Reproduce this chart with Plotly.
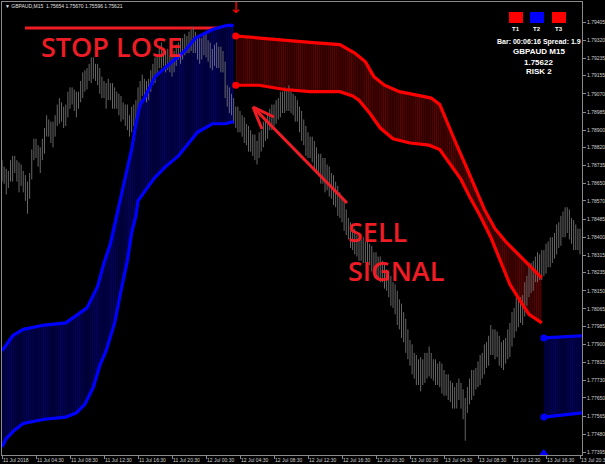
import plotly.graph_objects as go

# ---------------- data ----------------
time_labels = ["11 Jul 2018", "11 Jul 04:30", "11 Jul 08:30", "11 Jul 12:30", "11 Jul 16:30",
               "11 Jul 20:30", "12 Jul 00:30", "12 Jul 04:30", "12 Jul 08:30", "12 Jul 12:30",
               "12 Jul 16:30", "12 Jul 20:30", "13 Jul 00:30", "13 Jul 04:30", "13 Jul 08:30",
               "13 Jul 12:30", "13 Jul 16:30", "13 Jul 20:30"]
label_step = 16  # M15 bars between time labels

price_ticks = [1.79405, 1.79320, 1.79235, 1.79155, 1.79070, 1.78985, 1.78900, 1.78820, 1.78735,
               1.78650, 1.78570, 1.78485, 1.78400, 1.78315, 1.78235, 1.78150, 1.78065, 1.77985,
               1.77900, 1.77815, 1.77730, 1.77650, 1.77565, 1.77480, 1.77395]

high = [1.7876, 1.7873, 1.7872, 1.7871, 1.7876, 1.7878, 1.7878, 1.7876, 1.7875, 1.7874,
        1.7871, 1.7869, 1.7866, 1.7870, 1.7881, 1.7886, 1.7886, 1.7883, 1.7882, 1.7886,
        1.7891, 1.7897, 1.7895, 1.7894, 1.7894, 1.7897, 1.7902, 1.7905, 1.7903, 1.7901,
        1.7902, 1.7908, 1.7910, 1.7910, 1.7909, 1.7908, 1.7908, 1.7913, 1.7917, 1.7918,
        1.7919, 1.7921, 1.7924, 1.7924, 1.7921, 1.7921, 1.7919, 1.7915, 1.7913, 1.7912,
        1.7914, 1.7912, 1.7912, 1.7910, 1.7908, 1.7907, 1.7906, 1.7903, 1.7902, 1.7902,
        1.7897, 1.7901, 1.7902, 1.7904, 1.7910, 1.7913, 1.7916, 1.7914, 1.7913, 1.7914,
        1.7918, 1.7921, 1.7924, 1.7925, 1.7929, 1.7931, 1.7928, 1.7927, 1.7928, 1.7925,
        1.7925, 1.7927, 1.7930, 1.7931, 1.7933, 1.7933, 1.7935, 1.7934, 1.7936, 1.7937,
        1.7938, 1.7936, 1.7933, 1.7933, 1.7933, 1.7935, 1.7936, 1.7932, 1.7931, 1.7928,
        1.7930, 1.7931, 1.7929, 1.7929, 1.7927, 1.7922, 1.7911, 1.7910, 1.7907, 1.7905,
        1.7901, 1.7901, 1.7899, 1.7897, 1.7896, 1.7893, 1.7892, 1.7890, 1.7888, 1.7888,
        1.7885, 1.7889, 1.7890, 1.7894, 1.7895, 1.7898, 1.7900, 1.7902, 1.7902, 1.7904,
        1.7905, 1.7908, 1.7908, 1.7910, 1.7909, 1.7911, 1.7908, 1.7907, 1.7906, 1.7904,
        1.7901, 1.7899, 1.7895, 1.7892, 1.7889, 1.7887, 1.7887, 1.7885, 1.7882, 1.7879,
        1.7879, 1.7877, 1.7877, 1.7874, 1.7873, 1.7870, 1.7869, 1.7866, 1.7864, 1.7861,
        1.7859, 1.7857, 1.7853, 1.7849, 1.7847, 1.7844, 1.7844, 1.7841, 1.7841, 1.7839,
        1.7840, 1.7838, 1.7838, 1.7837, 1.7836, 1.7833, 1.7833, 1.7831, 1.7831, 1.7829,
        1.7828, 1.7825, 1.7824, 1.7822, 1.7819, 1.7818, 1.7815, 1.7811, 1.7809, 1.7805,
        1.7802, 1.7797, 1.7792, 1.7790, 1.7786, 1.7785, 1.7783, 1.7784, 1.7783, 1.7786,
        1.7786, 1.7789, 1.7786, 1.7783, 1.7783, 1.7781, 1.7782, 1.7781, 1.7778, 1.7776,
        1.7776, 1.7773, 1.7772, 1.7770, 1.7772, 1.7774, 1.7772, 1.7769, 1.7765, 1.7770,
        1.7774, 1.7778, 1.7778, 1.7779, 1.7782, 1.7785, 1.7786, 1.7790, 1.7791, 1.7794,
        1.7799, 1.7797, 1.7797, 1.7796, 1.7794, 1.7791, 1.7792, 1.7793, 1.7797, 1.7800,
        1.7805, 1.7807, 1.7812, 1.7812, 1.7812, 1.7813, 1.7819, 1.7822, 1.7828, 1.7828,
        1.7829, 1.7831, 1.7833, 1.7832, 1.7834, 1.7834, 1.7837, 1.7838, 1.7840, 1.7840,
        1.7842, 1.7846, 1.7847, 1.7850, 1.7852, 1.7854, 1.7854, 1.7853, 1.7849, 1.7848,
        1.7846, 1.7844, 1.7844]

low = [1.7866, 1.7865, 1.7860, 1.7863, 1.7866, 1.7866, 1.7870, 1.7866, 1.7861, 1.7864,
       1.7861, 1.7857, 1.7851, 1.7858, 1.7867, 1.7876, 1.7877, 1.7873, 1.7870, 1.7876,
       1.7879, 1.7887, 1.7887, 1.7884, 1.7882, 1.7887, 1.7892, 1.7893, 1.7894, 1.7891,
       1.7892, 1.7896, 1.7900, 1.7902, 1.7899, 1.7896, 1.7900, 1.7903, 1.7905, 1.7908,
       1.7909, 1.7913, 1.7912, 1.7914, 1.7913, 1.7911, 1.7907, 1.7905, 1.7905, 1.7900,
       1.7904, 1.7904, 1.7900, 1.7900, 1.7900, 1.7897, 1.7894, 1.7895, 1.7892, 1.7890,
       1.7887, 1.7889, 1.7892, 1.7894, 1.7898, 1.7903, 1.7906, 1.7906, 1.7903, 1.7904,
       1.7908, 1.7911, 1.7912, 1.7915, 1.7919, 1.7919, 1.7920, 1.7917, 1.7918, 1.7917,
       1.7915, 1.7917, 1.7920, 1.7923, 1.7921, 1.7923, 1.7925, 1.7926, 1.7926, 1.7927,
       1.7926, 1.7926, 1.7923, 1.7921, 1.7923, 1.7925, 1.7924, 1.7922, 1.7919, 1.7918,
       1.7920, 1.7919, 1.7919, 1.7917, 1.7917, 1.7905, 1.7901, 1.7898, 1.7897, 1.7893,
       1.7891, 1.7889, 1.7889, 1.7887, 1.7884, 1.7883, 1.7880, 1.7880, 1.7878, 1.7876,
       1.7874, 1.7877, 1.7880, 1.7882, 1.7885, 1.7886, 1.7890, 1.7890, 1.7892, 1.7893,
       1.7895, 1.7896, 1.7898, 1.7898, 1.7899, 1.7899, 1.7898, 1.7897, 1.7894, 1.7894,
       1.7889, 1.7885, 1.7883, 1.7878, 1.7877, 1.7877, 1.7875, 1.7871, 1.7870, 1.7869,
       1.7865, 1.7865, 1.7861, 1.7862, 1.7859, 1.7858, 1.7855, 1.7854, 1.7850, 1.7849,
       1.7847, 1.7843, 1.7841, 1.7839, 1.7835, 1.7834, 1.7832, 1.7831, 1.7829, 1.7829,
       1.7828, 1.7828, 1.7826, 1.7827, 1.7824, 1.7823, 1.7821, 1.7821, 1.7819, 1.7819,
       1.7816, 1.7815, 1.7812, 1.7808, 1.7807, 1.7804, 1.7799, 1.7797, 1.7793, 1.7791,
       1.7786, 1.7783, 1.7780, 1.7776, 1.7774, 1.7771, 1.7771, 1.7768, 1.7771, 1.7772,
       1.7774, 1.7775, 1.7774, 1.7773, 1.7771, 1.7771, 1.7770, 1.7767, 1.7766, 1.7766,
       1.7764, 1.7763, 1.7760, 1.7760, 1.7760, 1.7764, 1.7760, 1.7755, 1.7745, 1.7758,
       1.7762, 1.7764, 1.7766, 1.7769, 1.7770, 1.7771, 1.7774, 1.7776, 1.7779, 1.7780,
       1.7785, 1.7785, 1.7783, 1.7784, 1.7780, 1.7779, 1.7778, 1.7781, 1.7783, 1.7784,
       1.7789, 1.7793, 1.7796, 1.7798, 1.7800, 1.7799, 1.7803, 1.7808, 1.7812, 1.7814,
       1.7815, 1.7819, 1.7819, 1.7820, 1.7820, 1.7822, 1.7823, 1.7826, 1.7826, 1.7828,
       1.7830, 1.7832, 1.7835, 1.7836, 1.7840, 1.7840, 1.7842, 1.7839, 1.7837, 1.7834,
       1.7834, 1.7834, 1.7832]

# indicator bands (bar index, price)
blue1_up_x = [0, 5, 10, 20, 30, 37, 40, 45, 48, 51, 54, 57, 59, 61, 63, 65, 67, 72, 80, 86, 91, 99, 106, 109]
blue1_up = [1.7787, 1.7794, 1.7797, 1.7799, 1.7800, 1.7805, 1.7807, 1.7817, 1.7828, 1.7837, 1.7850, 1.7862,
            1.7871, 1.7881, 1.7893, 1.7902, 1.7905, 1.7915, 1.7922, 1.7927, 1.7933, 1.7937, 1.7939, 1.7939]
blue1_lo_x = [0, 2, 6, 10, 20, 30, 35, 39, 43, 46, 49, 53, 56, 59, 61, 63, 64, 66, 69, 72, 77, 83, 88, 92, 99, 105, 109]
blue1_lo = [1.7742, 1.7746, 1.7750, 1.7753, 1.7755, 1.7756, 1.7758, 1.7762, 1.7770, 1.7780, 1.7787, 1.7800,
            1.7815, 1.7829, 1.7842, 1.7850, 1.7857, 1.7860, 1.7864, 1.7868, 1.7873, 1.7878, 1.7884, 1.7889,
            1.7893, 1.7893, 1.7894]

red_up_x = [110, 121, 133, 145, 159, 166, 171, 175, 180, 187, 197, 202, 206, 210, 214, 218, 223, 227, 232,
            237, 241, 246, 251, 254]
red_up = [1.7934, 1.7933, 1.7932, 1.7931, 1.7930, 1.7926, 1.7922, 1.7915, 1.7911, 1.7908, 1.7906, 1.7905,
          1.7902, 1.7892, 1.7883, 1.7874, 1.7862, 1.7853, 1.7844, 1.7838, 1.7834, 1.7829, 1.7824, 1.7821]
red_lo_x = [110, 121, 133, 145, 159, 165, 168, 173, 178, 184, 192, 201, 206, 211, 216, 220, 225, 230, 234,
            239, 244, 248, 254]
red_lo = [1.7911, 1.7911, 1.7909, 1.7908, 1.7908, 1.7906, 1.7904, 1.7898, 1.7891, 1.7886, 1.7884, 1.7883,
          1.7881, 1.7874, 1.7867, 1.7859, 1.7850, 1.7840, 1.7830, 1.7818, 1.7810, 1.7804, 1.7800]

blue2_x = [255, 264, 273]
blue2_up = [1.7793, 1.77935, 1.7794]
blue2_lo = [1.7756, 1.7757, 1.7758]

sell_bar, sell_price = 110, 1.79466
buy_bar, buy_price = 255, 1.7739

header = "▼ GBPAUD,M15  1.75654 1.75670 1.75596 1.75621"
trend_labels = ["T1", "T2", "T3"]
trend_colors = ["#ff0000", "#0000ff", "#ff0000"]
info_lines = ["Bar: 00:06:16 Spread: 1.9", "GBPAUD M15", "1.75622", "RISK 2"]

# ---------------- geometry helpers (pixel -> paper) ----------------
W, H = 605, 464
L_M, R_M, T_M, B_M = 2, 23, 2, 9
PW, PH = W - L_M - R_M, H - T_M - B_M


def pxx(x):
    return (x - L_M) / PW


def pxy(y):
    return (H - B_M - y) / PH


fig = go.Figure()


def band(xu, yu, xl, yl, fg, bg):
    fig.add_trace(go.Scatter(x=xu + xl[::-1], y=yu + yl[::-1], mode="none", fill="toself",
                             fillcolor=bg,
                             fillpattern=dict(shape="|", fgcolor=fg, bgcolor=bg, size=2.125, solidity=0.45),
                             hoverinfo="skip"))


band(blue1_up_x, blue1_up, blue1_lo_x, blue1_lo, "#0000d0", "#00001a")
band(red_up_x, red_up, red_lo_x, red_lo, "#b00000", "#1a0000")
band(blue2_x, blue2_up, blue2_x, blue2_lo, "#0000d0", "#00001a")

# price bars
bx, by = [], []
for i, (h, l) in enumerate(zip(high, low)):
    bx += [i, i, None]
    by += [l, h, None]
fig.add_trace(go.Scatter(x=bx, y=by, mode="lines", line=dict(color="#666666", width=1), hoverinfo="skip"))

# band lines
for xs, ys, col in [(blue1_up_x, blue1_up, "#0000ff"), (blue1_lo_x, blue1_lo, "#0000ff"),
                    (red_up_x, red_up, "#ff0000"), (red_lo_x, red_lo, "#ff0000"),
                    (blue2_x, blue2_up, "#0000ff"), (blue2_x, blue2_lo, "#0000ff")]:
    fig.add_trace(go.Scatter(x=xs, y=ys, mode="lines", line=dict(color=col, width=3.2)))

# start dots
fig.add_trace(go.Scatter(x=[red_up_x[0], red_lo_x[0]], y=[red_up[0], red_lo[0]], mode="markers",
                         marker=dict(color="#ff0000", size=7)))
fig.add_trace(go.Scatter(x=[blue2_x[0], blue2_x[0]], y=[blue2_up[0], blue2_lo[0]], mode="markers",
                         marker=dict(color="#0000ff", size=7)))

# signals
fig.add_trace(go.Scatter(x=[sell_bar], y=[sell_price], mode="text", text=["↓"],
                         textfont=dict(color="#ff0000", size=15, family="DejaVu Sans")))
fig.add_trace(go.Scatter(x=[buy_bar], y=[buy_price], mode="markers",
                         marker=dict(symbol="triangle-up", color="#0000ff", size=9)))

shapes = []
annotations = []

RED = "#ee1c25"
# stop-loss line
shapes.append(dict(type="line", xref="paper", yref="paper", x0=pxx(25), x1=pxx(233), y0=pxy(28), y1=pxy(28),
                   line=dict(color=RED, width=3), layer="below"))
# sell arrow
for (x0, y0, x1, y1) in [(347, 203, 254, 108), (253, 107, 262, 129), (253, 107, 274, 117)]:
    shapes.append(dict(type="line", xref="paper", yref="paper", x0=pxx(x0), y0=pxy(y0), x1=pxx(x1), y1=pxy(y1),
                       line=dict(color=RED, width=3)))

big_font = dict(family="Open Sans", size=27, color=RED, weight=600)
annotations.append(dict(text="STOP LOSE", xref="paper", yref="paper", x=pxx(39), y=pxy(47), xanchor="left",
                        yanchor="middle", showarrow=False, font=big_font))
annotations.append(dict(text="SELL", xref="paper", yref="paper", x=pxx(346), y=pxy(232), xanchor="left",
                        yanchor="middle", showarrow=False, font=big_font))
annotations.append(dict(text="SIGNAL", xref="paper", yref="paper", x=pxx(346), y=pxy(270), xanchor="left",
                        yanchor="middle", showarrow=False, font=big_font))

# header
annotations.append(dict(text=header, xref="paper", yref="paper", x=pxx(3), y=pxy(6), xanchor="left",
                        yanchor="middle", showarrow=False,
                        font=dict(family="Liberation Sans", size=5, color="#e0e0e0")))

# info box
sq_x = [509, 530, 552]
for k, (lab, col) in enumerate(zip(trend_labels, trend_colors)):
    shapes.append(dict(type="rect", xref="paper", yref="paper", x0=pxx(sq_x[k]), x1=pxx(sq_x[k] + 14),
                       y0=pxy(23), y1=pxy(12), fillcolor=col, line=dict(width=0)))
    annotations.append(dict(text="<b>%s</b>" % lab, xref="paper", yref="paper", x=pxx(sq_x[k] + 7), y=pxy(29.5),
                            xanchor="center", yanchor="middle", showarrow=False,
                            font=dict(family="Liberation Sans", size=6, color="#ffffff")))
info_y = [41.5, 51.5, 62, 71.5]
info_size = [7, 8, 8, 8]
for t, yy, fs in zip(info_lines, info_y, info_size):
    annotations.append(dict(text="<b>%s</b>" % t, xref="paper", yref="paper", x=pxx(538.5), y=pxy(yy),
                            xanchor="center", yanchor="middle", showarrow=False,
                            font=dict(family="Liberation Sans", size=fs, color="#ffffff")))

# time labels (left-aligned at tick like MT4)
tick_x = [k * label_step for k in range(len(time_labels))]
for tx, lab in zip(tick_x, time_labels):
    annotations.append(dict(text=lab, xref="x", yref="paper", x=tx, y=0, xanchor="left", yanchor="top",
                            yshift=-1, showarrow=False, borderpad=0,
                            font=dict(family="Liberation Sans", size=5, color="#d0d0d0")))

fig.update_layout(
    width=W, height=H,
    margin=dict(l=L_M, r=R_M, t=T_M, b=B_M, autoexpand=False),
    paper_bgcolor="#000000", plot_bgcolor="#000000",
    showlegend=False,
    shapes=shapes, annotations=annotations,
    xaxis=dict(range=[0, PW / 2.125], showgrid=False, zeroline=False, showline=True, mirror=True,
               linecolor="#8a8a8a", linewidth=1, tickvals=tick_x, ticks="outside", ticklen=3,
               tickcolor="#8a8a8a", showticklabels=False, fixedrange=True),
    yaxis=dict(range=[1.773831, 1.794987], side="right", showgrid=False, zeroline=False, showline=True,
               mirror=True, linecolor="#8a8a8a", linewidth=1, tickvals=price_ticks,
               ticktext=["%.5f" % v for v in price_ticks], ticks="outside", ticklen=3, tickcolor="#8a8a8a",
               tickfont=dict(family="Liberation Sans", size=5, color="#d0d0d0"), fixedrange=True),
)

fig.write_html("out.html", config={"displayModeBar": False},
               post_script="document.body.style.margin='0';document.body.style.background='#000';")
